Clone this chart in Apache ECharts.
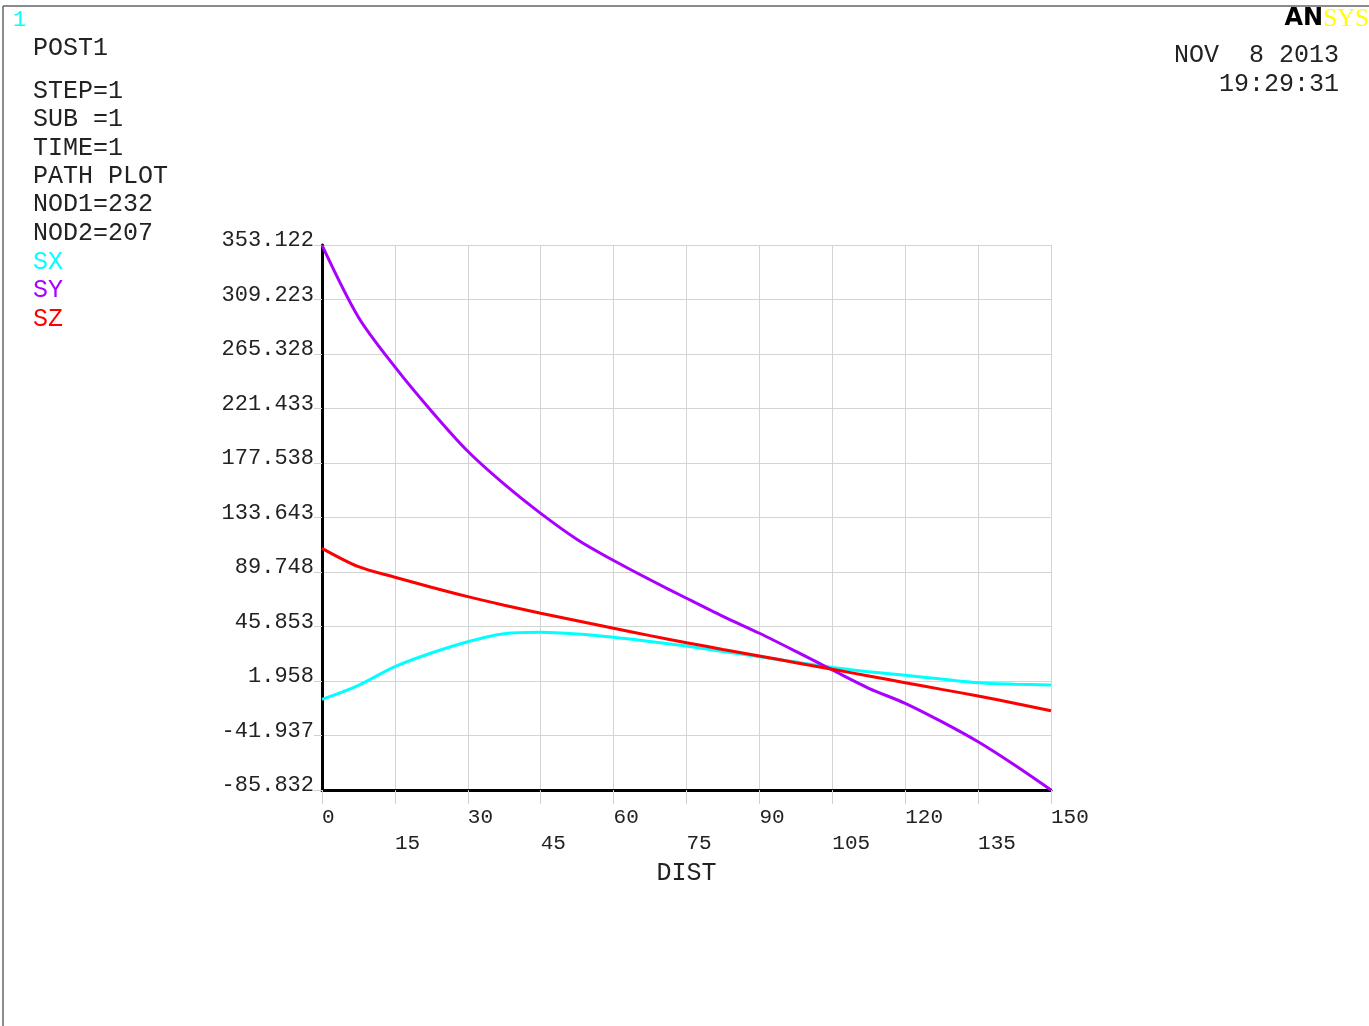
<!DOCTYPE html>
<html>
<head>
    <meta charset="utf-8">
    <title>PATH PLOT</title>
    <script src="https://cdn.jsdelivr.net/npm/echarts@6/dist/echarts.min.js"></script>
    <style>
        html, body { margin: 0; padding: 0; background: #fff; }
        #chart1 { width: 1369px; height: 1026px; }
    </style>
</head>
<body>
    <div id="chart1"></div>
    <script type="text/javascript">
        // DIST along path
        var dist = [0, 7.5, 15, 22.5, 30, 37.5, 45, 52.5, 60, 67.5, 75, 82.5, 90, 97.5, 105, 112.5, 120, 127.5, 135, 142.5, 150];
        var sx = [-12.8, -1.5, 13.5, 24.5, 33.6, 40.0, 41.2, 39.8, 37.2, 33.8, 30.1, 25.8, 21.5, 17.2, 12.9, 9.5, 6.5, 3.5, 0.6, -0.6, -1.3];
        var sy = [353.1, 295, 255, 219.5, 187, 160.5, 137, 116, 99, 83.5, 68.6, 54, 40.4, 25.8, 10.8, -3.9, -16, -30.8, -47, -65.7, -85.8];
        var sz = [108.8, 94, 85.5, 77.5, 69.9, 63, 56.5, 50.5, 44.4, 38.5, 32.8, 27.4, 22.1, 16.7, 11.4, 6, 0.6, -4.8, -10.1, -16, -22];

        var yTickLabels = ['-85.832', '-41.937', '1.958', '45.853', '89.748', '133.643', '177.538', '221.433', '265.328', '309.223', '353.122'];
        var infoLines = ['POST1', '', 'STEP=1', 'SUB =1', 'TIME=1', 'PATH PLOT', 'NOD1=232', 'NOD2=207'];
        var legendNames = ['SX', 'SY', 'SZ'];
        var colors = ['#00ffff', '#aa00ff', '#ff0000'];

        var mono = '"Liberation Mono", "Courier New", monospace';
        var textColor = '#222';

        function pair(ys) {
            return dist.map(function (d, i) { return [d, ys[i]]; });
        }

        var graphics = [
            { type: 'line', shape: { x1: 3, y1: 6, x2: 1369, y2: 6 }, style: { stroke: '#666', lineWidth: 1.5 } },
            { type: 'line', shape: { x1: 3, y1: 6, x2: 3, y2: 1026 }, style: { stroke: '#666', lineWidth: 1.5 } },
            { type: 'text', style: { text: '1', x: 13, y: 20, fill: '#00ffff', font: '22px ' + mono, verticalAlign: 'middle' } },
            { type: 'text', style: { text: 'NOV  8 2013', x: 1339, y: 55, fill: textColor, font: '25px ' + mono, align: 'right', verticalAlign: 'middle' } },
            { type: 'text', style: { text: '19:29:31', x: 1339, y: 84, fill: textColor, font: '25px ' + mono, align: 'right', verticalAlign: 'middle' } },
            {
                type: 'text',
                style: {
                    text: '{a|AN}{b|SYS}', x: 1369, y: 19, align: 'right', verticalAlign: 'middle',
                    rich: {
                        a: { fontFamily: '"DejaVu Sans", sans-serif', fontWeight: 900, fontSize: 24, fill: '#000', color: '#000' },
                        b: { fontFamily: '"Liberation Serif", serif', fontSize: 25, fill: '#ffff00', color: '#ffff00' }
                    }
                }
            }
        ];
        var lineY = [48, 69, 91, 119, 148, 176, 204, 233];
        infoLines.forEach(function (t, i) {
            if (!t) return;
            graphics.push({ type: 'text', style: { text: t, x: 33, y: lineY[i], fill: textColor, font: '25px ' + mono, verticalAlign: 'middle' } });
        });
        legendNames.forEach(function (t, i) {
            graphics.push({ type: 'text', style: { text: t, x: 33, y: 262 + i * 28.5, fill: colors[i], font: '25px ' + mono, verticalAlign: 'middle' } });
        });

        var myChart1 = echarts.init(document.getElementById('chart1'));
        myChart1.setOption({
            animation: false,
            backgroundColor: '#fff',
            grid: { left: 322, top: 245, right: 318, bottom: 236, containLabel: false },
            graphic: graphics,
            xAxis: {
                type: 'value',
                min: 0,
                max: 150,
                interval: 15,
                name: 'DIST',
                nameLocation: 'middle',
                nameGap: 70,
                nameTextStyle: { fontFamily: mono, fontSize: 25, color: textColor },
                axisLine: { show: true, onZero: false, lineStyle: { color: '#000', width: 3 } },
                axisTick: { show: true, length: 14, lineStyle: { color: '#d0d0d0', width: 1 } },
                splitLine: { show: true, lineStyle: { color: '#d4d4d4', width: 1 } },
                axisLabel: {
                    fontFamily: mono, fontSize: 21, color: textColor,
                    align: 'left', verticalAlign: 'top', lineHeight: 26, margin: 14,
                    formatter: function (v) {
                        return (Math.round(v / 15) % 2) ? '\n' + v : '' + v;
                    }
                }
            },
            yAxis: {
                type: 'value',
                min: -85.832,
                max: 353.122,
                interval: 43.8954,
                axisLine: { show: true, onZero: false, lineStyle: { color: '#000', width: 3 } },
                axisTick: { show: true, length: 8, lineStyle: { color: '#d0d0d0', width: 1 } },
                splitLine: { show: true, lineStyle: { color: '#d4d4d4', width: 1 } },
                axisLabel: {
                    fontFamily: mono, fontSize: 22, color: textColor,
                    margin: 8, verticalAlign: 'bottom', lineHeight: 9,
                    formatter: function (v) {
                        var k = Math.round((v + 85.832) / 43.8954);
                        return yTickLabels[k] || '';
                    }
                }
            },
            series: [
                { name: 'SX', type: 'line', data: pair(sx), showSymbol: false, smooth: 0.3, lineStyle: { color: colors[0], width: 3 }, z: 3 },
                { name: 'SY', type: 'line', data: pair(sy), showSymbol: false, smooth: 0.3, lineStyle: { color: colors[1], width: 3 }, z: 3 },
                { name: 'SZ', type: 'line', data: pair(sz), showSymbol: false, smooth: 0.3, lineStyle: { color: colors[2], width: 3 }, z: 4 }
            ]
        });
    </script>
</body>
</html>
